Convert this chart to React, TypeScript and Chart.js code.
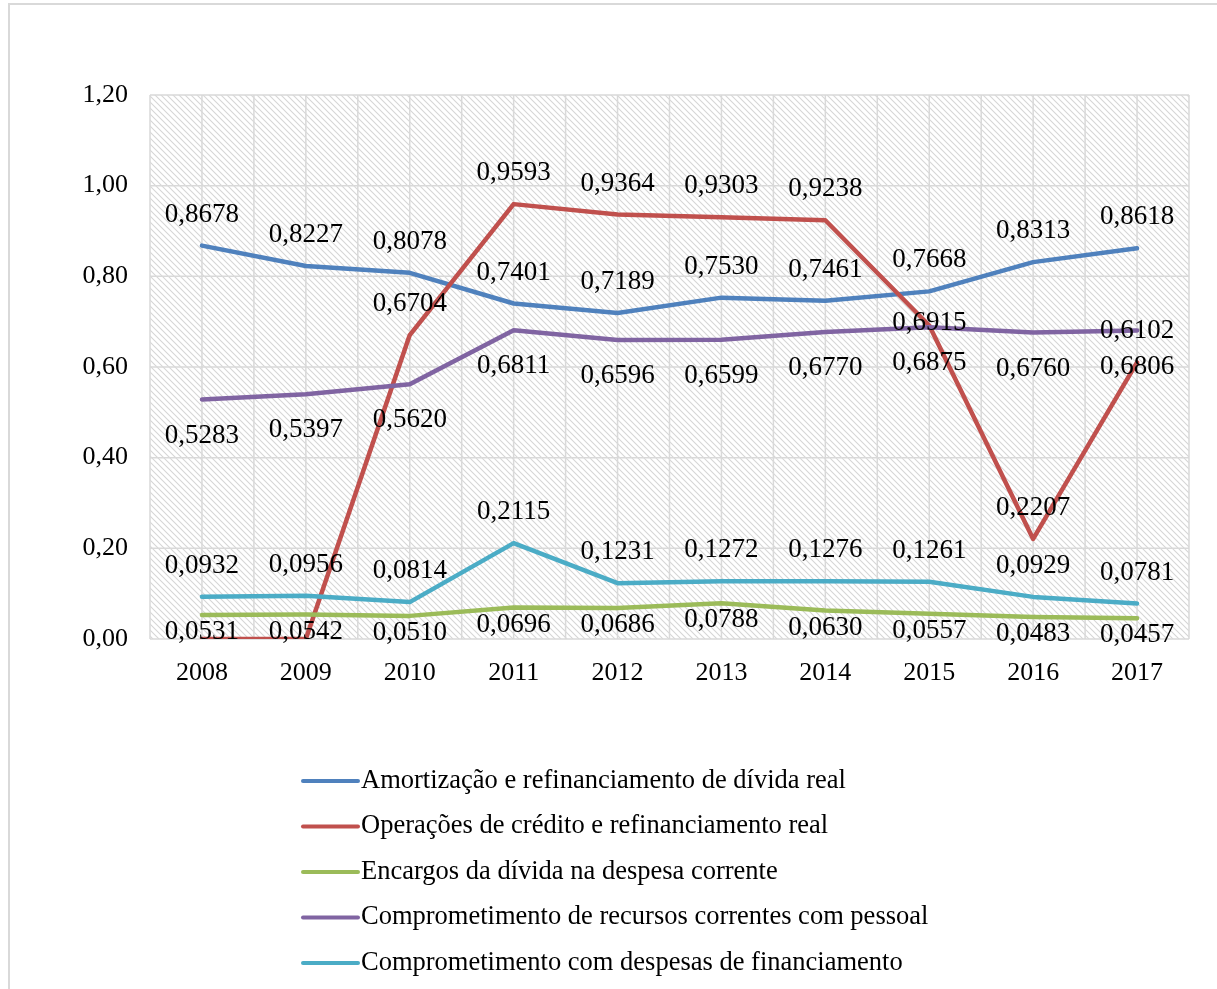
import React, { useEffect, useRef } from "react";
import { Chart, registerables } from "chart.js";

Chart.register(...registerables);

const years = ["2008", "2009", "2010", "2011", "2012", "2013", "2014", "2015", "2016", "2017"];

const amortizacao = [0.8678, 0.8227, 0.8078, 0.7401, 0.7189, 0.753, 0.7461, 0.7668, 0.8313, 0.8618];
const operacoes = [0, 0, 0.6704, 0.9593, 0.9364, 0.9303, 0.9238, 0.6915, 0.2207, 0.6102];
const encargos = [0.0531, 0.0542, 0.051, 0.0696, 0.0686, 0.0788, 0.063, 0.0557, 0.0483, 0.0457];
const pessoal = [0.5283, 0.5397, 0.562, 0.6811, 0.6596, 0.6599, 0.677, 0.6875, 0.676, 0.6806];
const financiamento = [0.0932, 0.0956, 0.0814, 0.2115, 0.1231, 0.1272, 0.1276, 0.1261, 0.0929, 0.0781];

const seriesNames = [
  "Amortização e refinanciamento de dívida real",
  "Operações de crédito e refinanciamento real",
  "Encargos da dívida na despesa corrente",
  "Comprometimento de recursos correntes com pessoal",
  "Comprometimento com despesas de financiamento",
];

const FONT = "'Liberation Serif', 'Times New Roman', serif";
const GRID = "#d9d9d9";

// vertical offset of each series' value labels relative to its points
const labelOffsets = [-31, -31, 17, 36, -31];
const labelOverrides: Record<string, number> = { "1-7": -3 };

const fmt2 = (v: number) => v.toFixed(2).replace(".", ",");
const fmt4 = (v: number) => v.toFixed(4).replace(".", ",");

function makeHatch(): CanvasPattern | string {
  const size = 6;
  const c = document.createElement("canvas");
  c.width = size;
  c.height = size;
  const g = c.getContext("2d");
  if (!g) return "#f4f4f4";
  g.fillStyle = "#ffffff";
  g.fillRect(0, 0, size, size);
  g.strokeStyle = "#d6d6d6";
  g.lineWidth = 1.1;
  g.beginPath();
  g.moveTo(-1, -1);
  g.lineTo(size + 1, size + 1);
  g.moveTo(-1, size - 1);
  g.lineTo(1, size + 1);
  g.moveTo(size - 1, -1);
  g.lineTo(size + 1, 1);
  g.stroke();
  const p = g.createPattern(c, "repeat");
  return p || "#f4f4f4";
}

const backgroundPlugin = {
  id: "plotBackground",
  beforeDraw(chart: any) {
    const { ctx, chartArea, scales } = chart;
    const { left, right, top, bottom } = chartArea;
    ctx.save();
    // outer frame
    ctx.strokeStyle = GRID;
    ctx.lineWidth = 2;
    ctx.beginPath();
    ctx.moveTo(9, chart.height + 2);
    ctx.lineTo(9, 4);
    ctx.lineTo(chart.width + 2, 4);
    ctx.stroke();

    ctx.fillStyle = makeHatch();
    ctx.fillRect(left, top, right - left, bottom - top);

    ctx.strokeStyle = GRID;
    ctx.lineWidth = 1.5;
    const x = scales.x;
    const y = scales.y;
    const half = (x.getPixelForValue(1) - x.getPixelForValue(0)) / 2;
    ctx.beginPath();
    for (let i = 0; i < years.length; i++) {
      const cx = x.getPixelForValue(i);
      [cx - half, cx].forEach((px) => {
        ctx.moveTo(px, top);
        ctx.lineTo(px, bottom);
      });
    }
    ctx.moveTo(right, top);
    ctx.lineTo(right, bottom);
    y.ticks.forEach((t: any) => {
      const py = y.getPixelForValue(t.value);
      ctx.moveTo(left, py);
      ctx.lineTo(right, py);
    });
    ctx.stroke();
    ctx.restore();
  },
};

const valueLabelPlugin = {
  id: "valueLabels",
  afterDatasetsDraw(chart: any) {
    const { ctx } = chart;
    ctx.save();
    ctx.font = `27px ${FONT}`;
    ctx.fillStyle = "#000000";
    ctx.textAlign = "center";
    ctx.textBaseline = "middle";
    chart.data.datasets.forEach((ds: any, di: number) => {
      const meta = chart.getDatasetMeta(di);
      meta.data.forEach((pt: any, i: number) => {
        const v = ds.data[i];
        if (!v) return;
        const key = `${di}-${i}`;
        const dy = key in labelOverrides ? labelOverrides[key] : labelOffsets[di];
        ctx.fillText(fmt4(v), pt.x, pt.y + dy);
      });
    });
    ctx.restore();
  },
};

const legendPlugin = {
  id: "stackedLegend",
  afterDraw(chart: any) {
    const { ctx, chartArea } = chart;
    const x0 = 303;
    const x1 = 358;
    const firstY = chartArea.bottom + 142;
    const step = 45.5;
    ctx.save();
    ctx.font = `26.5px ${FONT}`;
    ctx.textAlign = "left";
    ctx.textBaseline = "middle";
    chart.data.datasets.forEach((ds: any, i: number) => {
      const yy = firstY + i * step;
      ctx.strokeStyle = ds.borderColor;
      ctx.lineWidth = 4;
      ctx.lineCap = "round";
      ctx.beginPath();
      ctx.moveTo(x0, yy);
      ctx.lineTo(x1, yy);
      ctx.stroke();
      ctx.fillStyle = "#000000";
      ctx.fillText(ds.label, x1 + 3, yy);
    });
    ctx.restore();
  },
};

export default function App() {
  const ref = useRef<HTMLCanvasElement | null>(null);

  useEffect(() => {
    if (!ref.current) return;
    const colors = ["#4f81bd", "#c0504d", "#9bbb59", "#8064a2", "#4bacc6"];
    const values = [amortizacao, operacoes, encargos, pessoal, financiamento];
    const chart = new Chart(ref.current, {
      type: "line",
      data: {
        labels: years,
        datasets: values.map((data, i) => ({
          label: seriesNames[i],
          data,
          borderColor: colors[i],
          backgroundColor: colors[i],
          borderWidth: 4.5,
          borderCapStyle: "round",
          borderJoinStyle: "round",
          pointRadius: 0,
          tension: 0,
          fill: false,
          order: 4 - i,
        })),
      },
      options: {
        responsive: false,
        animation: false,
        layout: { padding: { left: 0, top: 95, right: 28, bottom: 0 } },
        plugins: {
          legend: { display: false },
          tooltip: { enabled: false },
          title: { display: false },
        },
        scales: {
          x: {
            type: "category",
            offset: true,
            grid: { display: false, drawTicks: false, offset: true },
            border: { display: false },
            ticks: {
              color: "#000000",
              font: { family: FONT, size: 26 },
              padding: 19,
              maxRotation: 0,
            },
            afterFit: (s: any) => {
              s.height = 350;
            },
          },
          y: {
            min: 0,
            max: 1.2,
            grid: { display: false, drawTicks: false },
            border: { display: false },
            ticks: {
              stepSize: 0.2,
              color: "#000000",
              font: { family: FONT, size: 26 },
              padding: 22,
              callback: (v: any) => fmt2(Number(v)),
            },
            afterFit: (s: any) => {
              s.width = 150;
            },
          },
        },
      },
      plugins: [backgroundPlugin, valueLabelPlugin, legendPlugin],
    });
    return () => chart.destroy();
  }, []);

  return (
    <canvas
      ref={ref}
      width={1217}
      height={989}
      style={{ position: "fixed", left: 0, top: 0, display: "block", background: "#ffffff" }}
    />
  );
}
